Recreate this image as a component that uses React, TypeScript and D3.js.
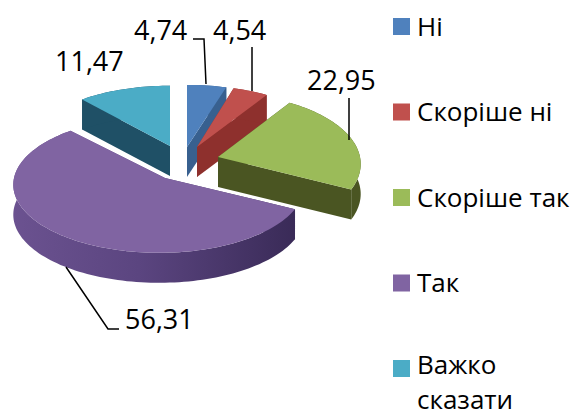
import React from 'react'
import * as d3 from 'd3'

const categories = ['Ні', 'Скоріше ні', 'Скоріше так', 'Так', 'Важко сказати']
const values = [4.74, 4.54, 22.95, 56.31, 11.47]
const valueLabels = ['4,74', '4,54', '22,95', '56,31', '11,47']

const width = 574
const height = 417
const depth = 30
const tilt = 0.1 // back of the pie shrinks, front grows
const font = '"Open Sans", "Noto Sans", sans-serif'

const topColors = ['#4f81bd', '#c0504d', '#9bbb59', '#8064a2', '#4bacc6']
const wallColors = ['#38608f', '#8e302d', '#4a5522', 'url(#purpleWall)', '#1f5066']

// apex of each exploded slice (ax, ay), its ellipse centre x and radii
const sliceGeom = [
  {ax: 187, ay: 147, cx: 187, rx: 148, ry: 69},
  {ax: 197, ay: 147, cx: 197, rx: 138, ry: 68},
  {ax: 218, ay: 157, cx: 218, rx: 142, ry: 71},
  {ax: 165, ay: 178, cx: 159, rx: 145, ry: 68},
  {ax: 170, ay: 146, cx: 170, rx: 144, ry: 67},
]

const labelPos = [
  {x: 134, y: 40},
  {x: 213, y: 40},
  {x: 307, y: 90},
  {x: 125, y: 329},
  {x: 55, y: 71},
]

const leaders = [
  [[193, 39], [204, 39], [206, 84]],
  [[252, 47], [252, 91]],
  [[349, 98], [349, 140]],
  [[66, 267], [108, 329], [119, 329]],
]

const drawOrder = [0, 1, 2, 4, 3]

const pie = d3.pie<number>().sort(null).value(d => d)
const arcs = pie(values)

const line = d3.line()

function rimPoints(i: number) {
  const a = arcs[i]
  const g = sliceGeom[i]
  const steps = Math.ceil((a.endAngle - a.startAngle) / 0.03)
  return d3.range(steps + 1).map(s => {
    const t = a.startAngle + (a.endAngle - a.startAngle) * s / steps
    const scale = 1 - tilt * Math.cos(t)
    return [g.cx + g.rx * scale * Math.sin(t), g.ay - g.ry * scale * Math.cos(t)] as [number, number]
  })
}

function Slice({i}: {i: number}) {
  const g = sliceGeom[i]
  const rim = rimPoints(i)
  const apex: [number, number] = [g.ax, g.ay]
  const top = [apex, ...rim]
  const drop = (pts: [number, number][]) => pts.map(p => [p[0], p[1] + depth] as [number, number])
  // outer wall, plus both cut faces
  const outer = [...rim, ...drop(rim).reverse()]
  const faceA = [apex, rim[0], ...drop([rim[0], apex])]
  const faceB = [apex, rim[rim.length - 1], ...drop([rim[rim.length - 1], apex])]
  const wall = wallColors[i]
  return (
    <g>
      <path d={line(faceA) + 'Z'} fill={wall} />
      <path d={line(faceB) + 'Z'} fill={wall} />
      <path d={line(outer) + 'Z'} fill={wall} />
      <path d={line(top) + 'Z'} fill={topColors[i]} />
    </g>
  )
}

const legendY = d3.scalePoint<string>().domain(categories).range([26.5, 368.5])

export default function App() {
  return (
    <svg width={width} height={height} style={{position: 'absolute', left: 0, top: 0}} fontFamily={font}>
      <defs>
        <linearGradient id="purpleWall" gradientUnits="userSpaceOnUse" x1={13} x2={293} y1={0} y2={0}>
          <stop offset="0" stopColor="#6b5290" />
          <stop offset="0.45" stopColor="#5b4580" />
          <stop offset="1" stopColor="#3a2b58" />
        </linearGradient>
      </defs>

      {drawOrder.map(i => <Slice key={i} i={i} />)}

      {leaders.map((pts, i) => (
        <path key={i} d={line(pts as [number, number][]) as string} fill="none" stroke="#000" strokeWidth={1.5} />
      ))}

      {valueLabels.map((t, i) => (
        <text key={t} x={labelPos[i].x} y={labelPos[i].y} fontSize={27} fill="#000">{t}</text>
      ))}

      {categories.map((c, i) => {
        const y = legendY(c) as number
        const words = c === 'Важко сказати' ? c.split(' ') : [c]
        // two-line entry sits a little higher so both lines stay inside the page
        const first = words.length > 1 ? y + 5 : y + 9
        return (
          <g key={c}>
            <rect x={393} y={y - 8.5} width={17} height={17} fill={topColors[i]} />
            {words.map((w, k) => (
              <text key={w} x={417} y={first + k * 35.5} fontSize={26} fill="#000">{w}</text>
            ))}
          </g>
        )
      })}
    </svg>
  )
}
